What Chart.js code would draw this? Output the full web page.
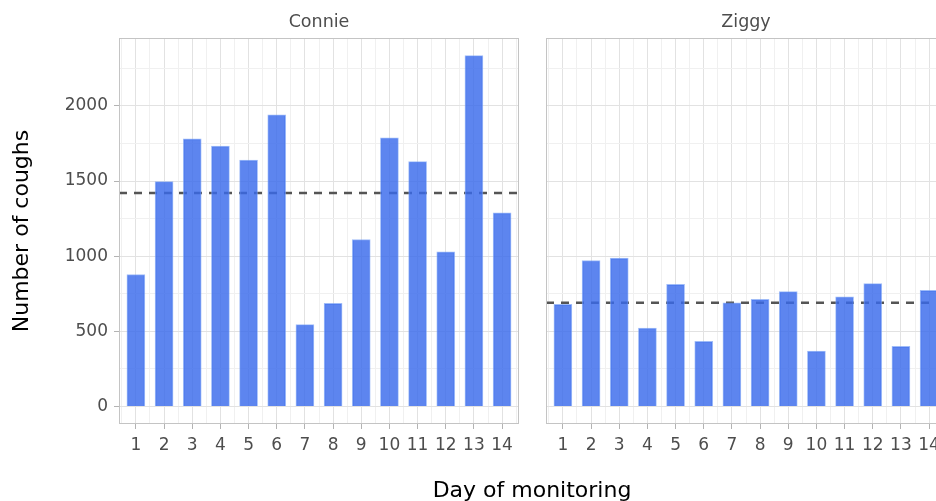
<!DOCTYPE html>
<html>
<head>
<meta charset="utf-8">
<script src="https://cdn.jsdelivr.net/npm/chart.js@4.4.1/dist/chart.umd.min.js"></script>
<style>
  html, body { margin: 0; padding: 0; background: #fff; overflow: hidden; width: 936px; height: 501px; }
  .panel { position: absolute; top: 0; height: 501px; }
  #leftBox { left: 0; width: 526px; }
  #rightBox { left: 530px; width: 420px; }
  #xTitle { position: absolute; left: 332px; width: 400px; top: 477px; text-align: center;
            font: 22px 'DejaVu Sans', sans-serif; color: #000; white-space: nowrap; }
</style>
</head>
<body>
<div class="panel" id="leftBox"><canvas id="chartConnie"></canvas></div>
<div class="panel" id="rightBox"><canvas id="chartZiggy"></canvas></div>
<div id="xTitle">Day of monitoring</div>
<script>
//------------------------------ DATA ----------------------------------
const days = [1, 2, 3, 4, 5, 6, 7, 8, 9, 10, 11, 12, 13, 14];
const connieCoughs = [878, 1496, 1780, 1733, 1640, 1941, 544, 686, 1111, 1788, 1629, 1029, 2335, 1288];
const ziggyCoughs = [679, 971, 987, 522, 812, 434, 690, 712, 764, 369, 730, 817, 400, 772];
const yTickLabels = [0, 500, 1000, 1500, 2000];
const panelNames = ['Connie', 'Ziggy'];

//------------------------------ SCALES (ggplot style) ----------------------------------
const FONT = "'DejaVu Sans', sans-serif";
const allValues = connieCoughs.concat(ziggyCoughs);
const yMaxData = Math.max(...allValues);
const yMin = -0.05 * yMaxData;
const yMax = yMaxData * 1.05;
const xMin = days[0] - 0.6;
const xMax = days[days.length - 1] + 0.6;

// major + minor breaks
const yStep = yTickLabels[1] - yTickLabels[0];
const yBreaks = [];
for (let v = yTickLabels[0]; v <= yMax; v += yStep / 2) yBreaks.push(v);
const xBreaks = [];
for (let v = days[0] - 0.5; v <= days[days.length - 1] + 0.5; v += 0.5) xBreaks.push(v);

const isMajorY = v => yTickLabels.includes(v);
const isMajorX = v => days.includes(v);
const tickVal = c => (c && c.tick) ? c.tick.value : null;

// border around each panel
const panelBorder = {
    id: 'panelBorder',
    afterDatasetsDraw(chart) {
        const { ctx, chartArea: a } = chart;
        ctx.save();
        ctx.strokeStyle = '#c4c4c4';
        ctx.lineWidth = 1;
        ctx.strokeRect(Math.round(a.left) + 0.5, Math.round(a.top) + 0.5,
            Math.round(a.right - a.left) - 1, Math.round(a.bottom - a.top) - 1);
        ctx.restore();
    }
};

function mean(arr) {
    return arr.reduce((s, v) => s + v, 0) / arr.length;
}

function createPanel(canvasId, name, values, showYAxis) {
    const avg = mean(values);
    new Chart(document.getElementById(canvasId), {
        type: 'bar',
        data: {
            datasets: [
                {
                    label: name,
                    data: days.map((d, i) => ({ x: d, y: values[i] })),
                    backgroundColor: 'rgba(57, 106, 235, 0.82)',
                    borderColor: 'rgba(120, 160, 245, 0.7)',
                    borderWidth: 1,
                    barThickness: 18,
                    order: 1
                },
                {
                    type: 'line',
                    label: 'Mean',
                    data: [{ x: xMin, y: avg }, { x: xMax, y: avg }],
                    borderColor: '#555555',
                    borderWidth: 2.5,
                    borderDash: [8, 7],
                    pointRadius: 0,
                    fill: false,
                    order: 2
                }
            ]
        },
        options: {
            responsive: true,
            maintainAspectRatio: false,
            animation: false,
            layout: {
                padding: showYAxis ? { left: 0, right: 7, top: 0, bottom: 0 }
                                   : { left: 16, right: 4, top: 0, bottom: 0 }
            },
            plugins: {
                legend: { display: false },
                tooltip: { enabled: false },
                title: {
                    display: true,
                    text: name,
                    fullSize: false,
                    color: '#4d4d4d',
                    font: { family: FONT, size: 17.5, weight: 'normal' },
                    padding: { top: 12, bottom: 5 }
                }
            },
            scales: {
                x: {
                    type: 'linear',
                    min: xMin,
                    max: xMax,
                    offset: false,
                    afterBuildTicks: s => { s.ticks = xBreaks.map(v => ({ value: v })); },
                    afterFit: s => { s.height = 77; },
                    ticks: {
                        autoSkip: false,
                        maxRotation: 0,
                        padding: 6,
                        color: '#4d4d4d',
                        font: { family: FONT, size: 17 },
                        callback: v => isMajorX(v) ? String(v) : ''
                    },
                    grid: {
                        offset: false,
                        color: c => isMajorX(tickVal(c)) ? '#e2e2e2' : '#f0f0f0',
                        tickColor: c => isMajorX(tickVal(c)) ? '#b3b3b3' : 'rgba(0,0,0,0)',
                        tickLength: 5,
                        lineWidth: 1
                    },
                    border: { display: false }
                },
                y: {
                    type: 'linear',
                    min: yMin,
                    max: yMax,
                    afterBuildTicks: s => { s.ticks = yBreaks.map(v => ({ value: v })); },
                    afterFit: s => { s.width = showYAxis ? 119 : 0; },
                    title: {
                        display: showYAxis,
                        text: 'Number of coughs',
                        color: '#000',
                        font: { family: FONT, size: 22 },
                        padding: { top: 9, bottom: 0 }
                    },
                    ticks: {
                        display: showYAxis,
                        autoSkip: false,
                        padding: 6,
                        color: '#4d4d4d',
                        font: { family: FONT, size: 17 },
                        callback: v => isMajorY(v) ? String(v) : ''
                    },
                    grid: {
                        drawTicks: showYAxis,
                        color: c => isMajorY(tickVal(c)) ? '#e2e2e2' : '#f0f0f0',
                        tickColor: c => isMajorY(tickVal(c)) ? '#b3b3b3' : 'rgba(0,0,0,0)',
                        tickLength: 5,
                        lineWidth: 1
                    },
                    border: { display: false }
                }
            }
        },
        plugins: [panelBorder]
    });
}

createPanel('chartConnie', panelNames[0], connieCoughs, true);
createPanel('chartZiggy', panelNames[1], ziggyCoughs, false);
</script>
</body>
</html>
